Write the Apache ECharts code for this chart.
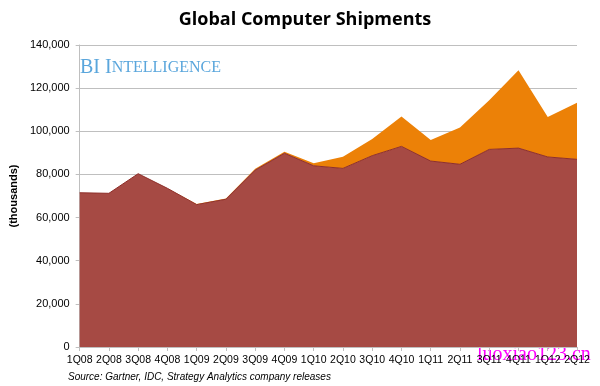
<!DOCTYPE html>
<html><head><meta charset="utf-8">
<script src="https://cdn.jsdelivr.net/npm/echarts@6/dist/echarts.min.js"></script>
<style>html,body{margin:0;padding:0;background:#fff}#c{width:600px;height:386px}</style>
</head><body><div id="c"></div>
<script>
const categories = ['1Q08','2Q08','3Q08','4Q08','1Q09','2Q09','3Q09','4Q09','1Q10','2Q10','3Q10','4Q10','1Q11','2Q11','3Q11','4Q11','1Q12','2Q12'];
const pcs = [71500,71250,80350,73550,66000,68500,82000,89800,84000,82800,88700,93000,86200,84700,91600,92200,88100,87000];
const tablets = [0,0,0,0,300,300,600,700,1200,5400,7700,13900,9800,17100,22800,36100,18500,26200];
const yTicks = {min:0, max:140000, interval:20000};

const chart = echarts.init(document.getElementById('c'));
const font = '"Liberation Sans", Arial, sans-serif';
chart.setOption({
  animation:false,
  backgroundColor:'#fff',
  title:{text:'Global Computer Shipments',left:300,top:6,textAlign:'center',
    textStyle:{fontFamily:'"Open Sans", sans-serif',fontWeight:'bold',fontSize:18,color:'#000'}},
  grid:{left:69,right:23,top:45,bottom:39},
  xAxis:{type:'category',data:categories,boundaryGap:false,
    axisLine:{lineStyle:{color:'#bfbfbf'}},
    axisTick:{show:true,length:4,lineStyle:{color:'#bfbfbf'}},
    axisLabel:{interval:0,margin:8,fontSize:10.5,color:'#000',fontFamily:font}},
  yAxis:{type:'value',min:yTicks.min,max:yTicks.max,interval:yTicks.interval,
    name:'(thousands)',nameLocation:'middle',nameGap:55,
    nameTextStyle:{fontWeight:'bold',fontSize:11,color:'#000',fontFamily:font},
    axisLine:{show:true,lineStyle:{color:'#bfbfbf'}},
    axisTick:{show:true,length:4,lineStyle:{color:'#bfbfbf'}},
    splitLine:{lineStyle:{color:'#bfbfbf'}},
    axisLabel:{margin:10,fontSize:11,color:'#000',fontFamily:font,
      formatter:v=>v.toLocaleString('en-US')}},
  series:[
    {name:'PCs',type:'line',stack:'t',data:pcs,symbol:'none',z:3,
      lineStyle:{width:1,color:'#8e2f2a'},areaStyle:{color:'#a64a44',opacity:1},itemStyle:{color:'#a64a44'}},
    {name:'Tablets',type:'line',stack:'t',data:tablets,symbol:'none',z:2,
      lineStyle:{width:0,color:'#ec8107'},areaStyle:{color:'#ec8107',opacity:1},itemStyle:{color:'#ec8107'}}
  ],
  graphic:[
    {type:'text',left:80,top:58,style:{text:'{a|BI I}{b|NTELLIGENCE}',
      rich:{a:{fontSize:20,fontFamily:'"Liberation Serif", serif',fill:'#5aa6dc'},
            b:{fontSize:16,fontFamily:'"Liberation Serif", serif',fill:'#5aa6dc'}}}},
    {type:'text',left:483,top:117,style:{text:'Tablets',font:'bold 12px "Open Sans", sans-serif',fill:'#000'}},
    {type:'text',left:313,top:251,style:{text:'PCs',font:'bold 12px "Open Sans", sans-serif',fill:'#000'}},
    {type:'text',left:68,top:372,style:{text:'Source: Gartner, IDC, Strategy Analytics company releases',font:'italic 10px "Liberation Sans", Arial, sans-serif',fill:'#000'}},
    {type:'text',left:477,top:345,style:{text:'luoxiao123.cn',font:'20px "Liberation Serif", serif',fill:'#ff00ff'}}
  ]
});
</script></body></html>
